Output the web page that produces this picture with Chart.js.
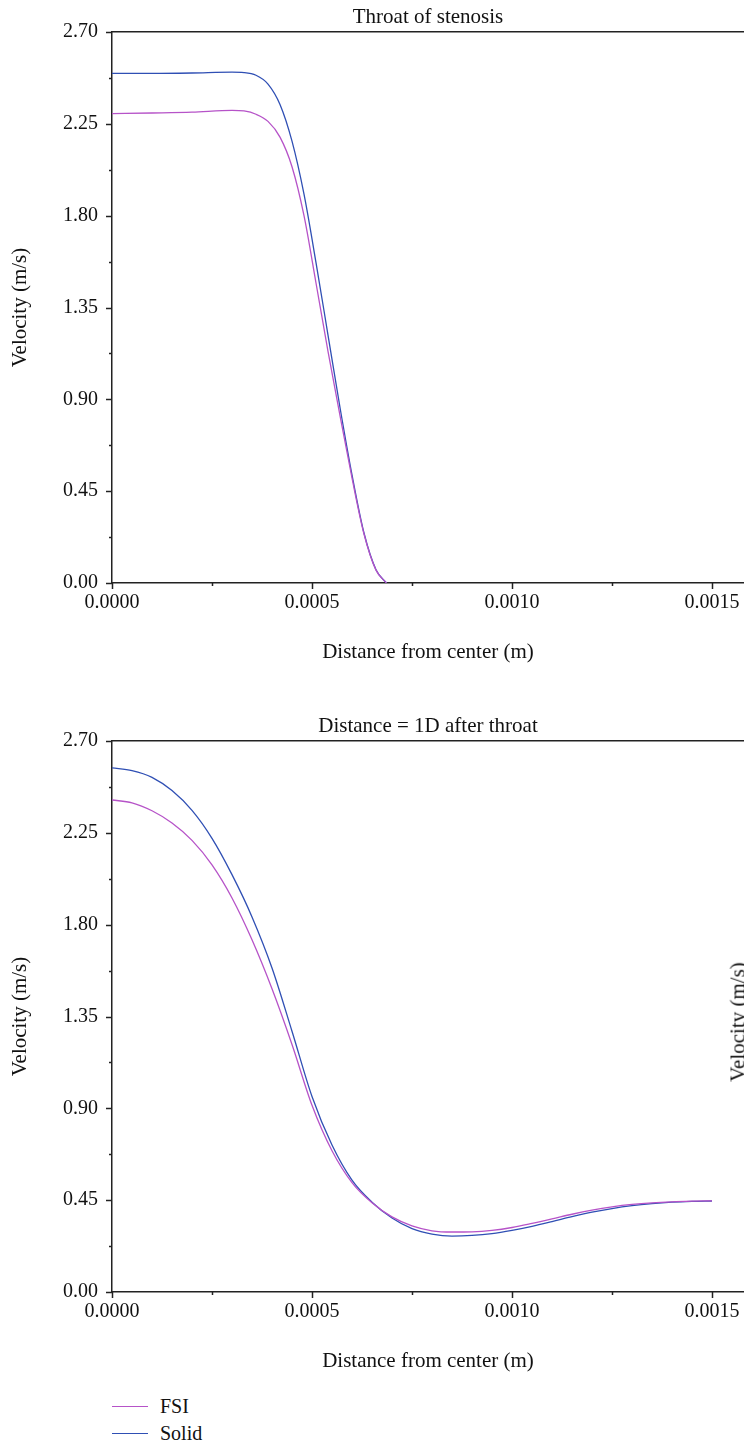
<!DOCTYPE html>
<html>
<head>
<meta charset="utf-8">
<script src="https://cdn.jsdelivr.net/npm/chart.js@4.4.1/dist/chart.umd.min.js"></script>
<style>
  html, body { margin: 0; padding: 0; background: #fff; overflow: hidden; }
  #page { position: relative; width: 744px; height: 1444px; font-family: "Liberation Serif", serif; color: #111; }
  canvas { position: absolute; left: 0; }
  #chart1 { top: 0; }
  #chart2 { top: 709px; }
  #legend { position: absolute; left: 112px; top: 1393px; }
  .item { position: relative; height: 27px; font-size: 20px; line-height: 27px; }
  .item span.line { position: absolute; left: 0; top: 13px; width: 36px; height: 1.3px; }
  .item span.label { position: absolute; left: 48px; top: 0; }
  #cut { position: absolute; left: 738px; top: 1022px; transform: translate(-50%, -50%) rotate(-90deg); font-size: 21px; white-space: nowrap; }
</style>
</head>
<body>
<div id="page">
  <canvas id="chart1" width="744" height="680"></canvas>
  <canvas id="chart2" width="744" height="680"></canvas>
  <div id="legend"></div>
  <div id="cut">Velocity (m/s)</div>
</div>
<script>
// Throat of stenosis
const throatX = [0, 0.0001, 0.0002, 0.0003, 0.00033, 0.00036, 0.00039, 0.00042, 0.00045, 0.00048, 0.00051, 0.00054, 0.00057, 0.0006, 0.00063, 0.00066, 0.000686]
const throatFsiY = [2.300, 2.303, 2.307, 2.316, 2.313, 2.297, 2.262, 2.185, 2.040, 1.800, 1.470, 1.135, 0.820, 0.515, 0.240, 0.063, 0]
const throatSolidY = [2.497, 2.497, 2.499, 2.503, 2.501, 2.488, 2.445, 2.345, 2.165, 1.905, 1.570, 1.215, 0.860, 0.530, 0.245, 0.065, 0]

// Distance = 1D after throat
const afterX = [0, 0.00005, 0.0001, 0.00015, 0.0002, 0.00025, 0.0003, 0.00035, 0.0004, 0.00045, 0.0005, 0.00055, 0.0006, 0.00065, 0.0007, 0.00075, 0.0008, 0.00085, 0.0009, 0.00095, 0.001, 0.00105, 0.0011, 0.00115, 0.0012, 0.00125, 0.0013, 0.00135, 0.0014, 0.00145, 0.0015]
const afterFsiY = [2.411, 2.397, 2.358, 2.298, 2.213, 2.093, 1.931, 1.726, 1.486, 1.213, 0.915, 0.692, 0.536, 0.437, 0.368, 0.324, 0.300, 0.294, 0.295, 0.302, 0.316, 0.336, 0.358, 0.381, 0.401, 0.417, 0.429, 0.437, 0.442, 0.445, 0.447]
const afterSolidY = [2.568, 2.555, 2.522, 2.457, 2.360, 2.223, 2.045, 1.838, 1.588, 1.278, 0.958, 0.720, 0.548, 0.440, 0.363, 0.311, 0.284, 0.274, 0.277, 0.286, 0.302, 0.322, 0.345, 0.369, 0.391, 0.409, 0.423, 0.433, 0.440, 0.444, 0.446]

const seriesNames = ['FSI', 'Solid']
const seriesColors = ['#b653c8', '#2f4fb4']
const xTitle = 'Distance from center (m)'
const yTitle = 'Velocity (m/s)'
const xMax = 0.00158
const yMax = 2.7

Chart.defaults.font.family = '"Liberation Serif", "Times New Roman", serif'
Chart.defaults.color = '#111'

const axisColor = '#222'

// outward tick marks: long on the labelled values, short halfway between
const tickMarks = {
  id: 'tickMarks',
  afterDraw(chart) {
    const ctx = chart.ctx
    ctx.save()
    ctx.strokeStyle = axisColor
    ctx.lineWidth = 1.5
    const mark = (id, value, len) => {
      const scale = chart.scales[id]
      const p = Math.round(scale.getPixelForValue(value)) + 0.5
      ctx.beginPath()
      if (id === 'x') {
        ctx.moveTo(p, scale.top)
        ctx.lineTo(p, scale.top + len)
      } else {
        ctx.moveTo(scale.right, p)
        ctx.lineTo(scale.right - len, p)
      }
      ctx.stroke()
    }
    ;['x', 'y'].forEach(id => {
      const ticks = chart.scales[id].ticks
      ticks.forEach((t, i) => {
        mark(id, t.value, 6)
        if (i < ticks.length - 1) mark(id, (t.value + ticks[i + 1].value) / 2, 3)
      })
    })
    ctx.restore()
  }
}

function makeSeries(xs, ys, i) {
  return {
    label: seriesNames[i],
    data: xs.map((x, k) => ({ x: x, y: ys[k] })),
    borderColor: seriesColors[i],
    borderWidth: 1.3,
    pointRadius: 0,
    fill: false,
    cubicInterpolationMode: 'monotone'
  }
}

function makeChart(id, title, datasets) {
  const grid = () => ({
    display: true,
    drawOnChartArea: false,
    drawTicks: true,
    tickLength: 6,
    tickColor: 'rgba(0,0,0,0)'
  })
  const border = () => ({ display: true, color: axisColor, width: 1.5 })
  return new Chart(document.getElementById(id), {
    type: 'line',
    data: { datasets: datasets },
    plugins: [tickMarks],
    options: {
      responsive: false,
      animation: false,
      devicePixelRatio: 1,
      layout: { padding: 0 },
      plugins: { legend: { display: false }, tooltip: { enabled: false } },
      scales: {
        x: {
          type: 'linear',
          position: 'bottom',
          min: 0,
          max: xMax,
          grid: grid(),
          border: border(),
          ticks: {
            stepSize: 0.0005,
            includeBounds: false,
            autoSkip: false,
            maxRotation: 0,
            padding: 4,
            font: { size: 20, lineHeight: 1 },
            callback: v => v.toFixed(4)
          },
          title: { display: true, text: xTitle, font: { size: 21 }, padding: { top: 0, bottom: 15 } },
          afterFit: s => { s.height = 97 }
        },
        xt: {
          type: 'linear',
          position: 'top',
          min: 0,
          max: xMax,
          grid: { display: true, drawOnChartArea: false, drawTicks: false },
          border: border(),
          ticks: { display: false },
          title: { display: true, text: title, font: { size: 21 }, padding: { top: 5, bottom: 2 } },
          afterFit: s => { s.height = 32 }
        },
        y: {
          min: 0,
          max: yMax,
          grid: grid(),
          border: border(),
          ticks: {
            stepSize: 0.45,
            padding: 8,
            font: { size: 20 },
            callback: v => v.toFixed(2)
          },
          title: { display: true, text: yTitle, font: { size: 21 }, padding: { top: 8, bottom: 0 } },
          afterFit: s => { s.width = 112 }
        }
      }
    }
  })
}

makeChart('chart1', 'Throat of stenosis', [
  makeSeries(throatX, throatFsiY, 0),
  makeSeries(throatX, throatSolidY, 1)
])

makeChart('chart2', 'Distance = 1D after throat', [
  makeSeries(afterX, afterFsiY, 0),
  makeSeries(afterX, afterSolidY, 1)
])

const legend = document.getElementById('legend')
seriesNames.forEach((name, i) => {
  const item = document.createElement('div')
  item.className = 'item'
  const line = document.createElement('span')
  line.className = 'line'
  line.style.background = seriesColors[i]
  const label = document.createElement('span')
  label.className = 'label'
  label.innerText = name
  item.append(line, label)
  legend.append(item)
})
</script>
</body>
</html>
